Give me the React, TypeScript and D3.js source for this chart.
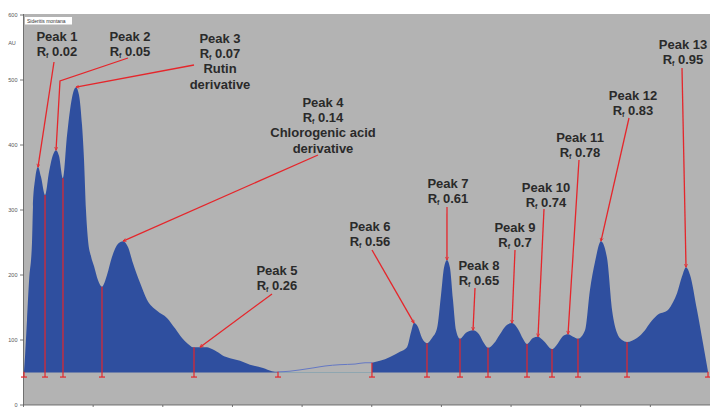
import React from "react";
import * as d3 from "d3";

// Densitogram of Sideritis montana extract (absorbance units vs Rf)
const sampleName = "Sideritis montana";

const curveRf = [
  0.0007, 0.0022, 0.005, 0.0079, 0.0122, 0.0136, 0.0165, 0.0208, 0.0251, 0.0309,
  0.0366, 0.0424, 0.0467, 0.051, 0.0567, 0.0625, 0.0668, 0.0711, 0.0754, 0.0797,
  0.084, 0.0869, 0.0897, 0.0926, 0.0969, 0.1012, 0.107, 0.1127, 0.1199, 0.1271,
  0.1357, 0.1429, 0.15, 0.1572, 0.1673, 0.1773, 0.1917, 0.206, 0.2175, 0.2276,
  0.2362, 0.2434, 0.2534, 0.2635, 0.2706, 0.2778, 0.2879, 0.2965, 0.3109, 0.3252,
  0.3439, 0.3568, 0.3654, 0.3826, 0.3969, 0.4156, 0.4329, 0.4544, 0.476, 0.4903,
  0.5003, 0.5118, 0.5262, 0.5405, 0.5506, 0.5564, 0.5607, 0.5664, 0.5721, 0.5793,
  0.5865, 0.5937, 0.5994, 0.6037, 0.608, 0.6123, 0.6166, 0.621, 0.6267, 0.6353,
  0.6454, 0.654, 0.6612, 0.6669, 0.6755, 0.6841, 0.6927, 0.7013, 0.7099, 0.7171,
  0.7229, 0.7315, 0.7387, 0.7473, 0.7588, 0.7674, 0.7746, 0.7818, 0.789, 0.7961,
  0.8062, 0.8133, 0.8205, 0.8291, 0.8378, 0.845, 0.8521, 0.8593, 0.8665, 0.8808,
  0.8923, 0.8995, 0.9096, 0.9253, 0.9325, 0.9383, 0.9455, 0.9512, 0.957, 0.967,
  0.9756, 0.9828,
];

const curveAU = [
  51, 75, 130, 190, 250, 305, 346, 366, 351, 323,
  358, 385, 392, 383, 349, 415, 454, 480, 489, 477,
  431, 377, 300, 254, 229, 214, 192, 182, 200, 228,
  248, 252, 243, 218, 188, 162, 145, 134, 118, 103,
  94, 89, 89, 89, 86, 82, 75, 72, 68, 62,
  57, 52, 51, 52, 54, 57, 60, 62, 63, 65,
  65, 68, 74, 82, 89, 112, 126, 120, 103, 95,
  103, 118, 169, 211, 223, 211, 162, 115, 102, 111,
  115, 109, 95, 88, 95, 109, 122, 126, 117, 102,
  94, 103, 105, 98, 86, 95, 106, 109, 105, 102,
  115, 177, 220, 252, 226, 146, 111, 100, 97, 103,
  115, 126, 138, 146, 158, 172, 198, 212, 200, 146,
  95, 51,
];

// Integration boundaries (Rf); the stretch between 0.3654 and 0.5003 is not integrated
const boundaryRf = [
  0.0007, 0.0309, 0.0567, 0.1127, 0.2448, 0.3654, 0.5003, 0.5793, 0.6267,
  0.6669, 0.7229, 0.7588, 0.7961, 0.8665, 0.9828,
];
const gapRf = [0.3654, 0.5003];
const baselineAU = 50;
const boundaryFootAU = 43;

const peakNames = [
  "Peak 1", "Peak 2", "Peak 3", "Peak 4", "Peak 5", "Peak 6", "Peak 7",
  "Peak 8", "Peak 9", "Peak 10", "Peak 11", "Peak 12", "Peak 13",
];
const peakRf = [0.02, 0.05, 0.07, 0.14, 0.26, 0.56, 0.61, 0.65, 0.7, 0.74, 0.78, 0.83, 0.95];
const peakRfText = ["0.02", "0.05", "0.07", "0.14", "0.26", "0.56", "0.61", "0.65", "0.7", "0.74", "0.78", "0.83", "0.95"];
const peakNotes: string[][] = [
  [], [], ["Rutin", "derivative"], ["Chlorogenic acid", "derivative"],
  [], [], [], [], [], [], [], [], [],
];

const yTicks = [0, 100, 200, 300, 400, 500, 600];
const xTicks = d3.range(0, 1.0001, 0.1);

// Label placement (pixels): text centre, first line y, and leader-line start/elbow
const labelLayout: { cx: number; cy: number; path: [number, number][] }[] = [
  { cx: 57, cy: 36, path: [[54, 62]] },
  { cx: 130, cy: 36, path: [[128, 58], [60, 81]] },
  { cx: 220, cy: 38, path: [[194, 65]] },
  { cx: 323, cy: 102, path: [[318, 155]] },
  { cx: 277, cy: 270, path: [[272, 294]] },
  { cx: 370, cy: 226, path: [[372, 250]] },
  { cx: 448, cy: 183, path: [[447, 207]] },
  { cx: 479, cy: 265, path: [[475, 288]] },
  { cx: 515, cy: 227, path: [[515, 250]] },
  { cx: 546, cy: 187, path: [[544, 209]] },
  { cx: 580, cy: 137, path: [[579, 160]] },
  { cx: 633, cy: 95, path: [[629, 118]] },
  { cx: 683, cy: 44, path: [[682, 68]] },
];

const W = 710;
const H = 407;
const plotLeft = 23.5;
const plotTop = 14;
const axisY = 405;

const BG = "#b3b3b3";
const BLUE = "#2f4f9f";
const RED = "#e5262b";
const TEXT = "#2a2a2a";
const FONT = "'Liberation Sans', Arial, sans-serif";

export default function App() {
  const x = d3.scaleLinear().domain([0, 1]).range([plotLeft, 720]);
  const y = d3.scaleLinear().domain([0, 600]).range([axisY, 15]);

  const pts = curveRf.map((r, i) => ({ rf: r, au: curveAU[i] }));
  const left = pts.filter((p) => p.rf <= gapRf[0] + 1e-9);
  const mid = pts.filter((p) => p.rf >= gapRf[0] - 1e-9 && p.rf <= gapRf[1] + 1e-9);
  const right = pts.filter((p) => p.rf >= gapRf[1] - 1e-9);

  const area = d3
    .area<{ rf: number; au: number }>()
    .x((d) => x(d.rf))
    .y0(y(baselineAU))
    .y1((d) => y(d.au))
    .curve(d3.curveMonotoneX);
  const line = d3
    .line<{ rf: number; au: number }>()
    .x((d) => x(d.rf))
    .y((d) => y(d.au))
    .curve(d3.curveMonotoneX);

  const interp = (r: number) => {
    const i = d3.bisector((p: { rf: number }) => p.rf).left(pts, r);
    if (i <= 0) return pts[0].au;
    if (i >= pts.length) return pts[pts.length - 1].au;
    const a = pts[i - 1];
    const b = pts[i];
    const t = (r - a.rf) / (b.rf - a.rf);
    return a.au + t * (b.au - a.au);
  };

  // peak apex: highest sampled point within a small window around the stated Rf
  const apex = (r: number) => {
    const win = pts.filter((p) => Math.abs(p.rf - r) <= 0.008);
    if (!win.length) return { rf: r, au: interp(r) };
    return win.reduce((m, p) => (p.au > m.au ? p : m), win[0]);
  };

  const lh = 15.3;

  return (
    <svg
      width={W}
      height={H}
      style={{ position: "absolute", left: 0, top: 0, background: "#ffffff" }}
      fontFamily={FONT}
    >
      <defs>
        <marker id="tip" viewBox="0 0 8 8" refX="7" refY="4" markerWidth="3.2" markerHeight="3.2" orient="auto">
          <path d="M1,1 L7,4 L1,7" fill="none" stroke={RED} strokeWidth={1.4} />
        </marker>
      </defs>

      <rect x={plotLeft} y={plotTop} width={W - plotLeft} height={axisY - plotTop} fill={BG} />

      {/* sample name box */}
      <rect x={25} y={17} width={47} height={7.5} fill="#ffffff" />
      <text x={27} y={22.6} fontSize={5} fill="#333">{sampleName}</text>

      {/* y axis */}
      <line x1={plotLeft} x2={plotLeft} y1={plotTop} y2={axisY} stroke="#555" strokeWidth={0.8} />
      {yTicks.map((t) => (
        <g key={t}>
          <line x1={plotLeft - 3.5} x2={plotLeft} y1={y(t)} y2={y(t)} stroke="#555" strokeWidth={0.8} />
          <text x={plotLeft - 6} y={y(t) + 1.8} fontSize={5.5} fill="#555" textAnchor="end">{t}</text>
        </g>
      ))}
      <text x={12} y={45} fontSize={5.5} fill="#555" textAnchor="middle">AU</text>

      {/* x axis */}
      <line x1={plotLeft} x2={W} y1={axisY} y2={axisY} stroke="#555" strokeWidth={0.8} />
      {xTicks.map((t) => (
        <line key={t} x1={x(t)} x2={x(t)} y1={axisY} y2={axisY + 4} stroke="#555" strokeWidth={0.8} />
      ))}

      {/* integrated signal */}
      <path d={area(left) || ""} fill={BLUE} />
      <path d={area(right) || ""} fill={BLUE} />
      {/* non-integrated stretch */}
      <line x1={x(gapRf[0])} x2={x(gapRf[1])} y1={y(baselineAU)} y2={y(baselineAU)} stroke="#8fa6b0" strokeWidth={1} />
      <path d={line(mid) || ""} fill="none" stroke="#6478c4" strokeWidth={1} />

      {/* integration boundaries */}
      {boundaryRf.map((b, i) => {
        const bx = x(b);
        return (
          <g key={i} stroke={RED} strokeWidth={1.2}>
            <line x1={bx} x2={bx} y1={y(interp(b))} y2={y(boundaryFootAU)} />
            <line x1={bx - 3} x2={bx + 3} y1={y(boundaryFootAU)} y2={y(boundaryFootAU)} />
          </g>
        );
      })}

      {/* peak annotations */}
      {peakNames.map((name, i) => {
        const lay = labelLayout[i];
        const a = apex(peakRf[i]);
        const ptsPath = [...lay.path, [x(a.rf), y(a.au)] as [number, number]];
        const d = "M" + ptsPath.map((p) => p.join(",")).join("L");
        return (
          <g key={name}>
            <path d={d} fill="none" stroke={RED} strokeWidth={1.3} markerEnd="url(#tip)" />
            <g fontSize={13} fontWeight="bold" fill={TEXT} textAnchor="middle">
              <text x={lay.cx} y={lay.cy + 4.6}>{name}</text>
              <text x={lay.cx} y={lay.cy + lh + 4.6}>
                <tspan>R</tspan>
                <tspan fontSize={7} dy={2.5}>f</tspan>
                <tspan dy={-2.5}>{" " + peakRfText[i]}</tspan>
              </text>
              {peakNotes[i].map((n, k) => (
                <text key={k} x={lay.cx} y={lay.cy + lh * (k + 2) + 4.6}>{n}</text>
              ))}
            </g>
          </g>
        );
      })}
    </svg>
  );
}
